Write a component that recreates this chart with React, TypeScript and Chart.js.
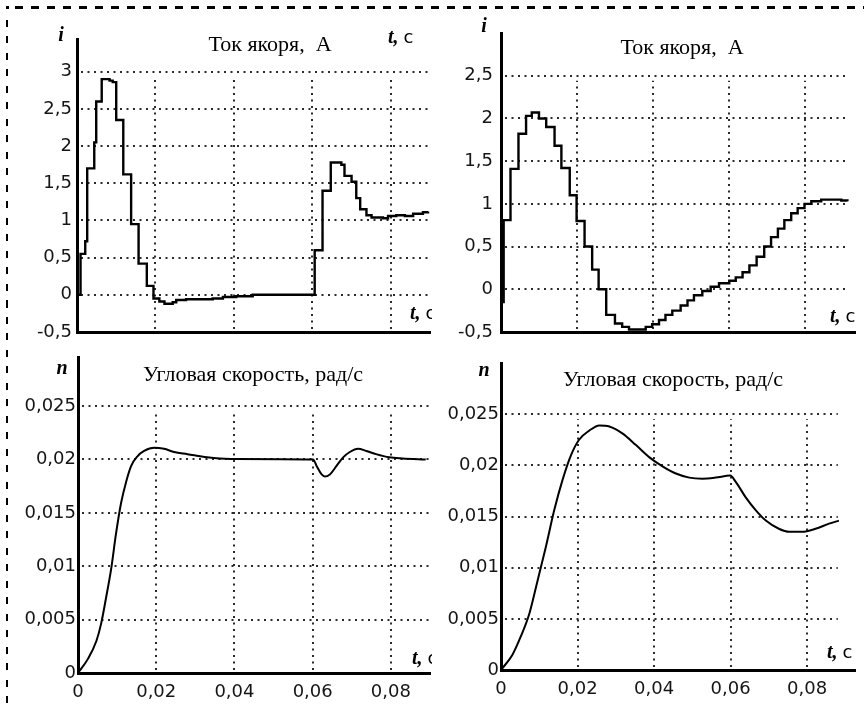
import React, { useEffect, useRef } from "react";
import { Chart, registerables } from "chart.js";
Chart.register(...registerables);

// ---------- data ----------
const xTickValues = [0, 0.02, 0.04, 0.06, 0.08];
const xTickLabels = ["0", "0,02", "0,04", "0,06", "0,08"];

const currentTicksA = [-0.5, 0, 0.5, 1, 1.5, 2, 2.5, 3];
const currentLabelsA = ["-0,5", "0", "0,5", "1", "1,5", "2", "2,5", "3"];
const currentTicksB = [-0.5, 0, 0.5, 1, 1.5, 2, 2.5];
const currentLabelsB = ["-0,5", "0", "0,5", "1", "1,5", "2", "2,5"];
const speedTicks = [0, 0.005, 0.01, 0.015, 0.02, 0.025];
const speedLabels = ["0", "0,005", "0,01", "0,015", "0,02", "0,025"];

const current1T = [0, 0.0009, 0.0021, 0.0026, 0.0044, 0.0049, 0.0063, 0.0083, 0.0091, 0.01, 0.0118, 0.0138, 0.0157, 0.0178, 0.0195, 0.021, 0.0223, 0.0244, 0.0253, 0.0278, 0.0346, 0.0372, 0.0406, 0.0448, 0.0606, 0.0626, 0.0647, 0.0674, 0.0682, 0.07, 0.0712, 0.0722, 0.0738, 0.0751, 0.078, 0.0793, 0.0814, 0.0836, 0.0857, 0.0882, 0.0895];
const current1I = [0, 0.55, 0.72, 1.7, 2.05, 2.6, 2.9, 2.88, 2.86, 2.35, 1.62, 0.95, 0.42, 0.12, -0.05, -0.09, -0.12, -0.1, -0.07, -0.06, -0.05, -0.03, -0.02, 0.0, 0.6, 1.4, 1.78, 1.75, 1.6, 1.52, 1.3, 1.15, 1.07, 1.04, 1.03, 1.06, 1.07, 1.06, 1.09, 1.11, 1.12];

const current2T = [0, 0.0007, 0.0025, 0.0046, 0.0066, 0.0081, 0.01, 0.0119, 0.0141, 0.0159, 0.0181, 0.0199, 0.022, 0.024, 0.0257, 0.0277, 0.03, 0.0319, 0.0337, 0.0381, 0.0398, 0.0416, 0.0433, 0.0451, 0.0473, 0.0491, 0.0508, 0.053, 0.0552, 0.0574, 0.0601, 0.0618, 0.0636, 0.0654, 0.0673, 0.0693, 0.0711, 0.0729, 0.0746, 0.0764, 0.0781, 0.0799, 0.0817, 0.0843, 0.0874, 0.0896, 0.0912];
const current2I = [-0.15, 0.81, 1.41, 1.82, 2.03, 2.07, 2.0, 1.9, 1.68, 1.42, 1.1, 0.8, 0.5, 0.23, 0.0, -0.3, -0.4, -0.44, -0.47, -0.44, -0.41, -0.36, -0.3, -0.25, -0.19, -0.13, -0.07, -0.02, 0.03, 0.07, 0.1, 0.14, 0.2, 0.28, 0.38, 0.5, 0.61, 0.71, 0.81, 0.89, 0.95, 1.0, 1.03, 1.05, 1.05, 1.04, 1.03];

const speed1T = [0, 0.0025, 0.0047, 0.0059, 0.0072, 0.0085, 0.0097, 0.011, 0.0123, 0.0136, 0.0152, 0.0169, 0.0195, 0.022, 0.0246, 0.028, 0.033, 0.039, 0.0601, 0.061, 0.0623, 0.0631, 0.0644, 0.0661, 0.0678, 0.0695, 0.0716, 0.0737, 0.0762, 0.0796, 0.083, 0.0889];
const speed1N = [0, 0.0013, 0.003, 0.0046, 0.0071, 0.0098, 0.013, 0.0159, 0.0179, 0.0194, 0.0203, 0.0208, 0.0211, 0.021, 0.0207, 0.0205, 0.0202, 0.02005, 0.02, 0.0194, 0.0186, 0.0184, 0.0186, 0.0194, 0.0202, 0.0207, 0.021, 0.0208, 0.0205, 0.0202, 0.0201, 0.02];

const speed2T = [0, 0.003, 0.0052, 0.0074, 0.0096, 0.0117, 0.0139, 0.0161, 0.0183, 0.0204, 0.0231, 0.0257, 0.0283, 0.0318, 0.0352, 0.0387, 0.0422, 0.0457, 0.0492, 0.0526, 0.0561, 0.0599, 0.0613, 0.0639, 0.0666, 0.0692, 0.0726, 0.0753, 0.0787, 0.0822, 0.0857, 0.0883];
const speed2N = [0, 0.0015, 0.0033, 0.0055, 0.0088, 0.012, 0.0156, 0.0186, 0.021, 0.0225, 0.0234, 0.0239, 0.0238, 0.0231, 0.022, 0.0208, 0.0199, 0.0192, 0.0188, 0.0187, 0.0188, 0.019, 0.0184, 0.0169, 0.0156, 0.0146, 0.0138, 0.0135, 0.0135, 0.0138, 0.0143, 0.0146];

const titleCurrent = "Ток якоря,  А";
const titleSpeed = "Угловая скорость, рад/с";

// ---------- panels ----------
type Panel = {
  box: { x: number; y: number; w: number; h: number };
  area: { left: number; top: number; right: number; bottom: number };
  xMax: number; yMin: number; yMax: number;
  yTicks: number[]; yLabels: string[]; yPad: number;
  showX: boolean; gridRight: number;
  t: number[]; v: number[]; stepped: boolean; lw: number;
  title: string; titleX: number; titleY: number;
  yName: string; yNameX: number; yNameY: number;
  tLabels: { x: number; y: number }[];
};

const panels: Panel[] = [
  {
    box: { x: 0, y: 0, w: 432, h: 352 },
    area: { left: 77, top: 39, right: 430, bottom: 332 },
    xMax: 0.09, yMin: -0.5, yMax: 3.44,
    yTicks: currentTicksA, yLabels: currentLabelsA, yPad: 5,
    showX: false, gridRight: 0.09,
    t: current1T, v: current1I, stepped: true, lw: 2.4,
    title: titleCurrent, titleX: 270, titleY: 45,
    yName: "i", yNameX: 61, yNameY: 36,
    tLabels: [{ x: 388, y: 38 }, { x: 410, y: 314 }],
  },
  {
    box: { x: 432, y: 0, w: 432, h: 352 },
    area: { left: 501, top: 33, right: 855, bottom: 332 },
    xMax: 0.0932, yMin: -0.5, yMax: 3.0,
    yTicks: currentTicksB, yLabels: currentLabelsB, yPad: 8,
    showX: false, gridRight: 0.091,
    t: current2T, v: current2I, stepped: true, lw: 2.4,
    title: titleCurrent, titleX: 682, titleY: 48,
    yName: "i", yNameX: 484, yNameY: 27,
    tLabels: [{ x: 830, y: 317 }],
  },
  {
    box: { x: 0, y: 335, w: 432, h: 376 },
    area: { left: 78, top: 357, right: 430, bottom: 673 },
    xMax: 0.09, yMin: 0, yMax: 0.0296,
    yTicks: speedTicks, yLabels: speedLabels, yPad: 2,
    showX: true, gridRight: 0.09,
    t: speed1T, v: speed1N, stepped: false, lw: 2,
    title: titleSpeed, titleX: 253, titleY: 375,
    yName: "n", yNameX: 62, yNameY: 369,
    tLabels: [{ x: 412, y: 659 }],
  },
  {
    box: { x: 432, y: 335, w: 432, h: 376 },
    area: { left: 501, top: 363, right: 855, bottom: 670 },
    xMax: 0.0925, yMin: 0, yMax: 0.03,
    yTicks: speedTicks, yLabels: speedLabels, yPad: 2,
    showX: true, gridRight: 0.088,
    t: speed2T, v: speed2N, stepped: false, lw: 2,
    title: titleSpeed, titleX: 673, titleY: 380,
    yName: "n", yNameX: 484, yNameY: 371,
    tLabels: [{ x: 827, y: 653 }],
  },
];

const tickFont = { family: '"DejaVu Sans", sans-serif', size: 18 };

function makeDecor(p: Panel) {
  return {
    id: "decor",
    beforeDatasetsDraw(chart: any) {
      const { ctx, chartArea: a, scales } = chart;
      const x = scales.x, y = scales.y;
      ctx.save();
      ctx.strokeStyle = "#2a2a2a";
      ctx.lineWidth = 2;
      ctx.setLineDash([2, 4.5]);
      const right = x.getPixelForValue(p.gridRight);
      for (const v of p.yTicks.slice(1)) {
        const py = Math.round(y.getPixelForValue(v));
        ctx.beginPath();
        ctx.moveTo(a.left + 4, py);
        ctx.lineTo(right, py);
        ctx.stroke();
      }
      const top = y.getPixelForValue(p.yTicks[p.yTicks.length - 1]) + 5;
      for (const v of xTickValues.slice(1)) {
        const px = Math.round(x.getPixelForValue(v));
        ctx.beginPath();
        ctx.moveTo(px, a.bottom - 3);
        ctx.lineTo(px, top);
        ctx.stroke();
      }
      ctx.restore();
    },
    afterDraw(chart: any) {
      const ctx = chart.ctx;
      const ox = p.box.x, oy = p.box.y;
      ctx.save();
      ctx.fillStyle = "#000";
      ctx.textBaseline = "middle";
      ctx.textAlign = "center";
      ctx.font = '22px "Liberation Serif", serif';
      ctx.fillText(p.title, p.titleX - ox, p.titleY - oy);
      ctx.font = 'italic bold 20px "Liberation Serif", serif';
      ctx.fillText(p.yName, p.yNameX - ox, p.yNameY - oy);
      ctx.textAlign = "left";
      for (const tl of p.tLabels) {
        ctx.font = 'italic bold 20px "Liberation Serif", serif';
        ctx.fillText("t,", tl.x - ox, tl.y - oy);
        const w = ctx.measureText("t, ").width;
        ctx.font = '18px "DejaVu Sans", sans-serif';
        ctx.fillText("с", tl.x - ox + w, tl.y - oy);
      }
      ctx.restore();
    },
  };
}

function PanelChart({ p }: { p: Panel }) {
  const ref = useRef<HTMLCanvasElement>(null);
  useEffect(() => {
    const topPad = p.area.top - p.box.y;
    const rightPad = p.box.x + p.box.w - p.area.right;
    const bottomRel = p.area.bottom - p.box.y;
    const xAxisH = p.showX ? p.box.h - bottomRel : 0;
    const bottomPad = p.showX ? 0 : p.box.h - bottomRel;
    const chart = new Chart(ref.current as HTMLCanvasElement, {
      type: "line",
      data: {
        datasets: [
          {
            data: p.t.map((t, i) => ({ x: t, y: p.v[i] })),
            borderColor: "#000",
            borderWidth: p.lw,
            pointRadius: 0,
            fill: false,
            stepped: p.stepped ? "before" : false,
            cubicInterpolationMode: p.stepped ? "default" : "monotone",
          } as any,
        ],
      },
      options: {
        responsive: false,
        maintainAspectRatio: false,
        animation: false,
        events: [],
        layout: { padding: { left: 0, top: topPad, right: rightPad, bottom: bottomPad } },
        plugins: { legend: { display: false }, tooltip: { enabled: false }, title: { display: false } },
        scales: {
          x: {
            type: "linear",
            min: 0,
            max: p.xMax,
            grid: { display: false, drawTicks: false },
            border: { display: true, color: "#000", width: 3 },
            ticks: {
              display: p.showX,
              font: tickFont,
              color: "#151515",
              padding: 9,
              maxRotation: 0,
              autoSkip: false,
              callback: (_v: any, i: number) => xTickLabels[i],
            },
            afterBuildTicks: (s: any) => {
              s.ticks = xTickValues.map((value) => ({ value }));
            },
            afterFit: (s: any) => {
              s.height = xAxisH;
            },
          },
          y: {
            type: "linear",
            min: p.yMin,
            max: p.yMax,
            grid: { display: false, drawTicks: false },
            border: { display: true, color: "#000", width: 3 },
            ticks: {
              font: tickFont,
              color: "#151515",
              padding: p.yPad,
              autoSkip: false,
              callback: (_v: any, i: number) => p.yLabels[i],
            },
            afterBuildTicks: (s: any) => {
              s.ticks = p.yTicks.map((value) => ({ value }));
            },
            afterFit: (s: any) => {
              s.width = p.area.left - p.box.x;
            },
          },
        } as any,
      },
      plugins: [makeDecor(p)],
    });
    return () => chart.destroy();
  }, [p]);
  return (
    <canvas
      ref={ref}
      width={p.box.w}
      height={p.box.h}
      style={{ position: "absolute", left: p.box.x, top: p.box.y, width: p.box.w, height: p.box.h }}
    />
  );
}

export default function App() {
  return (
    <div
      style={{
        position: "absolute",
        left: 0,
        top: 0,
        width: 864,
        height: 711,
        background: "#fff",
        overflow: "hidden",
      }}
    >
      {panels.map((p, i) => (
        <PanelChart key={i} p={p} />
      ))}
      <div
        style={{
          position: "absolute",
          left: 15,
          top: 6,
          width: 849,
          height: 3,
          background:
            "repeating-linear-gradient(to right, #000 0px, #000 8px, transparent 8px, transparent 16px)",
        }}
      />
      <div
        style={{
          position: "absolute",
          left: 6,
          top: 20,
          width: 2,
          height: 685,
          background:
            "repeating-linear-gradient(to bottom, #000 0px, #000 7px, transparent 7px, transparent 16.5px)",
        }}
      />
      <div style={{ position: "absolute", left: 6, top: 6, width: 3, height: 3, background: "#000" }} />
    </div>
  );
}
